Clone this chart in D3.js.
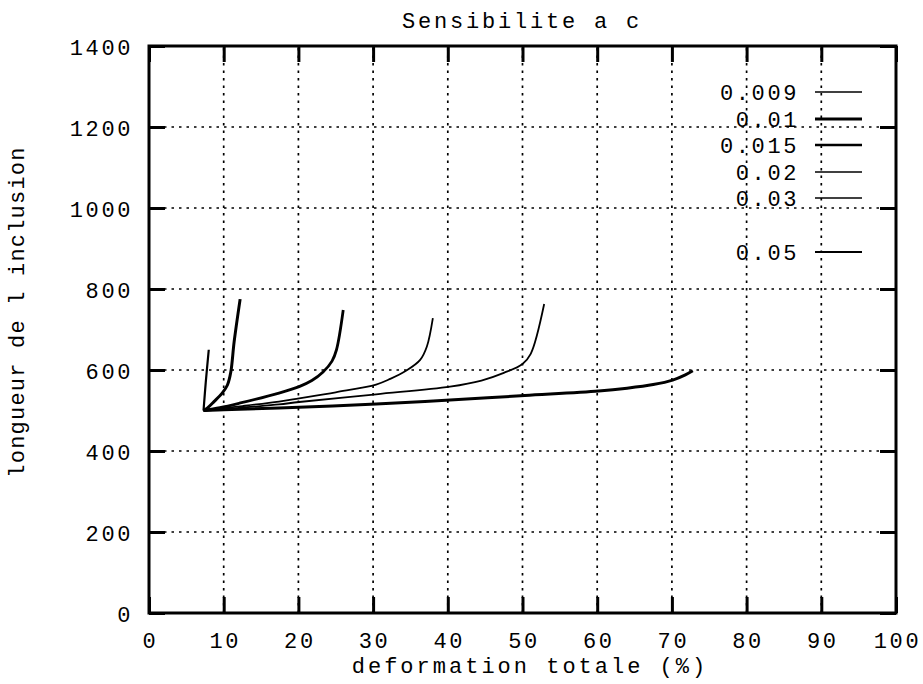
<!DOCTYPE html>
<html>
<head>
<meta charset="utf-8">
<script src="https://cdn.jsdelivr.net/npm/d3@7"></script>
<style>
  html, body { margin: 0; padding: 0; background: #fff; }
  svg text { font-family: "Liberation Mono", "Courier New", "DejaVu Sans Mono", monospace; fill: #000; }
</style>
</head>
<body>
<svg id="chart" width="923" height="684"></svg>
<script>
// ---- data ----
const title = "Sensibilite a c";
const xLabel = "deformation totale (%)";
const yLabel = "longueur de l inclusion";
const xTicks = [0, 10, 20, 30, 40, 50, 60, 70, 80, 90, 100];
const yTicks = [0, 200, 400, 600, 800, 1000, 1200, 1400];
const seriesNames = ["0.009", "0.01", "0.015", "0.02", "0.03", "0.05"];

const s009 = [[7.3, 500], [7.6, 570], [8.0, 650]];
const s01 = [[7.3, 500], [7.8, 506], [8.7, 522], [9.8, 543], [10.5, 563], [10.95, 595], [11.4, 670], [12.2, 775]];
const s015 = [[7.3, 500], [9.5, 507], [12.1, 518], [17.4, 543], [20.1, 559], [21.8, 574], [23.3, 595], [24.5, 622], [25.1, 650], [26.0, 748]];
const s02 = [[7.3, 500], [10, 506], [12.5, 511], [17.4, 522], [20.1, 530], [25, 545], [30.4, 564], [32.3, 578], [34.4, 598], [36.3, 625], [37.2, 658], [38.0, 728]];
const s03 = [[7.3, 500], [10, 503], [13, 508], [17.4, 515], [20.1, 521], [30.4, 540], [40.3, 559], [44.5, 574], [47.5, 593], [50.0, 615], [51.1, 640], [52.9, 763]];
const s05 = [[7.3, 500], [10, 502], [17.4, 506], [30.4, 516], [40.3, 526], [50.3, 537], [60.2, 548], [64, 555], [67.5, 564], [70.1, 575], [71.8, 588], [72.8, 598]];
const seriesData = [s009, s01, s015, s02, s03, s05];

// ---- styles ----
const seriesWidths = [2.2, 3, 2.8, 1.8, 1.8, 3];
const legendWidths = [1.6, 2.8, 2.4, 1.4, 1.4, 2.2];
const legendY = [92, 119, 145, 172, 198, 252];

const svg = d3.select("#chart");
const W = 923, H = 684;
const m = { left: 149, right: 27, top: 46, bottom: 71 };
const iw = W - m.left - m.right, ih = H - m.top - m.bottom;

const x = d3.scaleLinear().domain([0, 100]).range([m.left, m.left + iw]);
const y = d3.scaleLinear().domain([0, 1400]).range([m.top + ih, m.top]);

const g = svg.append("g");

// grid
g.append("g").selectAll("line").data(xTicks.slice(1, -1)).join("line")
  .attr("x1", d => x(d)).attr("x2", d => x(d))
  .attr("y1", y(0)).attr("y2", y(1400))
  .attr("stroke", "#000").attr("stroke-width", 1.7).attr("stroke-dasharray", "2.5,5");
g.append("g").selectAll("line").data(yTicks.slice(1, -1)).join("line")
  .attr("y1", d => y(d)).attr("y2", d => y(d))
  .attr("x1", x(0)).attr("x2", x(100))
  .attr("stroke", "#000").attr("stroke-width", 1.7).attr("stroke-dasharray", "2.5,5");

// axes with inward ticks
const fontSize = 22;
const ls = 2.6;
const xAxis = d3.axisBottom(x).tickValues(xTicks).tickSize(-16).tickPadding(25).tickFormat(d3.format("d"));
const yAxis = d3.axisLeft(y).tickValues(yTicks).tickSize(-16).tickPadding(16).tickFormat(d3.format("d"));

const gx = g.append("g").attr("transform", `translate(0,${y(0)})`).call(xAxis);
const gy = g.append("g").attr("transform", `translate(${x(0)},0)`).call(yAxis);
const gxt = g.append("g").attr("transform", `translate(0,${y(1400)})`).call(d3.axisTop(x).tickValues(xTicks).tickSize(-16).tickFormat(""));
const gyr = g.append("g").attr("transform", `translate(${x(100)},0)`).call(d3.axisRight(y).tickValues(yTicks).tickSize(-16).tickFormat(""));

[gx, gy, gxt, gyr].forEach(a => {
  a.select(".domain").remove();
  a.selectAll(".tick line").attr("stroke", "#000").attr("stroke-width", 3);
  a.selectAll("text").attr("font-size", fontSize)
    .attr("font-family", '"Liberation Mono", "Courier New", monospace')
    .attr("letter-spacing", ls).attr("fill", "#000");
});
gx.selectAll("text").attr("dy", "0.45em").attr("dx", 1);
gy.selectAll("text").attr("dy", "0.4em");

// frame
g.append("rect").attr("x", x(0)).attr("y", y(1400)).attr("width", x(100) - x(0)).attr("height", y(0) - y(1400))
  .attr("fill", "none").attr("stroke", "#000").attr("stroke-width", 3);

// series
const line = d3.line().x(d => x(d[0])).y(d => y(d[1])).curve(d3.curveCatmullRom.alpha(0.5));
g.append("g").selectAll("path").data(seriesData).join("path")
  .attr("d", line)
  .attr("fill", "none").attr("stroke", "#000")
  .attr("stroke-width", (d, i) => seriesWidths[i])
  .attr("stroke-linejoin", "round");

// legend
const leg = g.append("g");
seriesNames.forEach((n, i) => {
  leg.append("text").attr("x", 799).attr("y", legendY[i]).attr("dy", "0.36em")
    .attr("text-anchor", "end").attr("font-size", fontSize).attr("letter-spacing", ls).text(n);
  leg.append("line").attr("x1", 815).attr("x2", 862).attr("y1", legendY[i]).attr("y2", legendY[i])
    .attr("stroke", "#000").attr("stroke-width", legendWidths[i]);
});

// titles
svg.append("text").attr("x", 522).attr("y", 28).attr("text-anchor", "middle")
  .attr("font-size", fontSize).attr("letter-spacing", ls + 0.2).text(title);
svg.append("text").attr("x", 530).attr("y", 673).attr("text-anchor", "middle")
  .attr("font-size", fontSize).attr("letter-spacing", ls + 0.4).text(xLabel);
svg.append("text").attr("transform", "translate(24,312) rotate(-90)").attr("text-anchor", "middle")
  .attr("font-size", fontSize).attr("letter-spacing", 1.2).text(yLabel);
</script>
</body>
</html>
